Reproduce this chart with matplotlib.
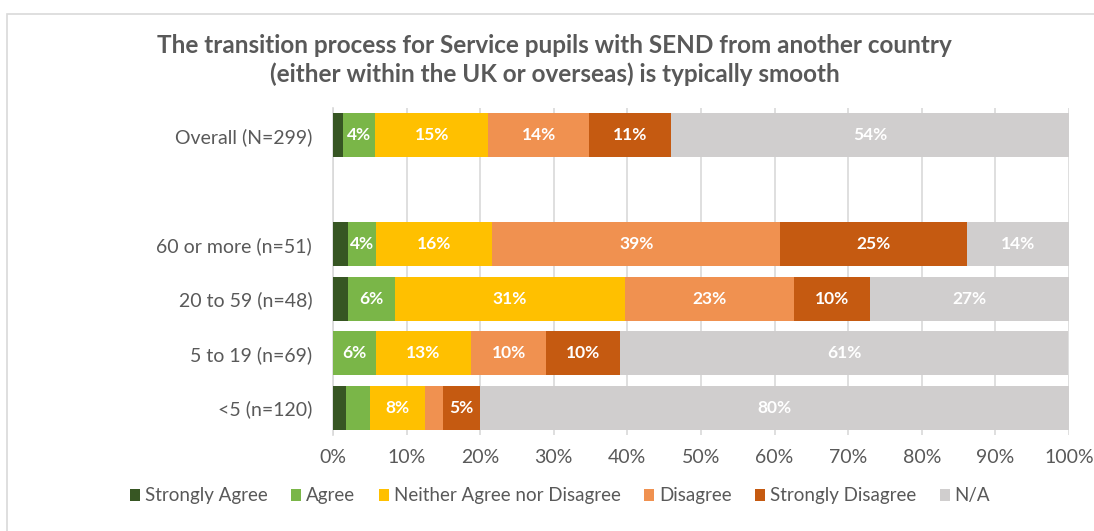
import numpy as np
import matplotlib
matplotlib.use("Agg")
import matplotlib.pyplot as plt
from matplotlib.patches import Rectangle

plt.rcParams["font.family"] = ["Lato", "DejaVu Sans"]

# ---- data (percent of respondents) ----
groups = ["<5 (n=120)", "5 to 19 (n=69)", "20 to 59 (n=48)",
          "60 or more (n=51)", "Overall (N=299)"]
positions = [0, 1, 2, 3, 5]

responses = ["Strongly Agree", "Agree", "Neither Agree nor Disagree",
             "Disagree", "Strongly Disagree", "N/A"]

strongly_agree = [1.7, 0.0, 2.1, 2.0, 1.4]
agree = [3.3, 5.8, 6.3, 3.9, 4.3]
neither = [7.5, 13.0, 31.3, 15.7, 15.4]
disagree = [2.5, 10.1, 22.9, 39.2, 13.7]
strongly_disagree = [5.0, 10.1, 10.4, 25.4, 11.1]
not_applicable = [80.0, 60.9, 27.1, 13.8, 54.1]

colors = ["#375623", "#7AB648", "#FFC000", "#F09150", "#C55A11", "#D0CECE"]

title = ("The transition process for Service pupils with SEND from another country\n"
         "(either within the UK or overseas) is typically smooth")

series = [strongly_agree, agree, neither, disagree, strongly_disagree, not_applicable]

fig = plt.figure(figsize=(10.94, 5.31), dpi=100)
# thin grey chart-area frame (open to the right and bottom)
fig.patches.append(Rectangle((7 / 1094, -0.1), 1.2, 1 - 14 / 531 + 0.1,
                             transform=fig.transFigure, fill=False,
                             edgecolor="#D9D9D9", linewidth=1.2))
ax = fig.add_axes([333 / 1094, 1 - 435 / 531, 736 / 1094, 327 / 531])

left = np.zeros(len(groups))
for name, vals, col in zip(responses, series, colors):
    vals = np.array(vals)
    bars = ax.barh(positions, vals, left=left, height=0.8, color=col,
                   label=name, zorder=3)
    labels = [f"{v:.0f}%" if v >= 3.5 else "" for v in vals]
    ax.bar_label(bars, labels=labels, label_type="center", color="white",
                 fontsize=12.5, fontweight="bold")
    left += vals

ax.set_xlim(0, 100)
ax.set_ylim(-0.5, 5.5)
ax.set_xticks(np.arange(0, 101, 10))
ax.set_xticklabels([f"{t}%" for t in range(0, 101, 10)])
ax.set_yticks(positions)
ax.set_yticklabels(groups)
ax.tick_params(axis="both", length=0, colors="#595959", labelsize=14)
ax.tick_params(axis="x", pad=10)
ax.tick_params(axis="y", pad=15)
ax.grid(axis="x", color="#D9D9D9", linewidth=1.2, zorder=0)
for side in ["top", "right", "bottom"]:
    ax.spines[side].set_visible(False)
ax.spines["left"].set_color("#D9D9D9")
ax.spines["left"].set_linewidth(1.2)

fig.text(0.507, 1 - 60 / 531, title, ha="center", va="center",
         fontsize=17.5, fontweight="bold", color="#595959", linespacing=1.25)

fig.legend(loc="center", bbox_to_anchor=(0.512, 1 - 496 / 531), ncol=6,
           frameon=False, fontsize=13.5, handlelength=0.55, handleheight=0.6,
           columnspacing=1.25, handletextpad=0.25, labelcolor="#595959")

fig.savefig("out.png", dpi=100)
